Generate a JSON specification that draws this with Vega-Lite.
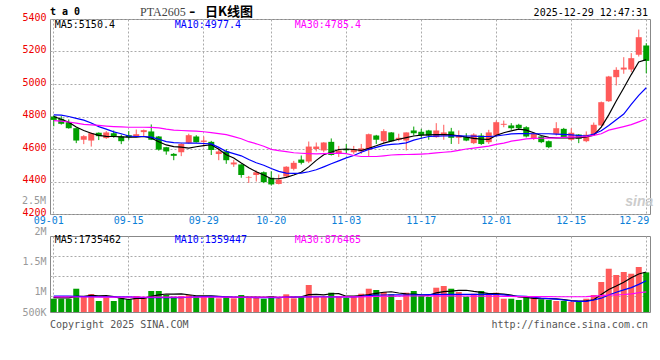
{
  "$schema": "https://vega.github.io/schema/vega-lite/v6.json",
  "background": "#ffffff",
  "padding": {"left": 21, "top": 5, "right": 10, "bottom": 5},
  "config": {
    "view": {"stroke": "#888888", "strokeWidth": 1},
    "axis": {"ticks": false, "domain": false, "labelFont": "DejaVu Sans Mono", "labelFontSize": 10, "gridColor": "#aaaaaa", "gridDash": [2, 2], "gridWidth": 1},
    "text": {"font": "DejaVu Sans Mono", "fontSize": 10}
  },
  "datasets": {
    "k": [
      {"d":"09-01","o":4800,"h":4806,"l":4740,"c":4779,"v":577000,"MA5":4800,"MA10":4810,"MA30":4775,"v5":620000,"v10":690000,"v30":655000},
      {"d":"09-02","o":4786,"h":4802,"l":4750,"c":4755,"v":577000,"MA5":4783,"MA10":4808,"MA30":4771,"v5":615000,"v10":690000,"v30":654000},
      {"d":"09-03","o":4765,"h":4782,"l":4725,"c":4728,"v":577000,"MA5":4765,"MA10":4800,"MA30":4766,"v5":610000,"v10":688000,"v30":653000},
      {"d":"09-04","o":4728,"h":4732,"l":4636,"c":4652,"v":1011000,"MA5":4735,"MA10":4788,"MA30":4759,"v5":680000,"v10":680000,"v30":652000},
      {"d":"09-05","o":4657,"h":4685,"l":4630,"c":4679,"v":651000,"MA5":4714,"MA10":4778,"MA30":4751,"v5":679000,"v10":670000,"v30":652000},
      {"d":"09-08","o":4652,"h":4702,"l":4615,"c":4697,"v":781000,"MA5":4697,"MA10":4760,"MA30":4748,"v5":719000,"v10":665000,"v30":651000},
      {"d":"09-09","o":4700,"h":4702,"l":4655,"c":4679,"v":477000,"MA5":4684,"MA10":4738,"MA30":4745,"v5":699000,"v10":662000,"v30":650000},
      {"d":"09-10","o":4667,"h":4710,"l":4662,"c":4702,"v":621000,"MA5":4678,"MA10":4722,"MA30":4741,"v5":708000,"v10":660000,"v30":650000},
      {"d":"09-11","o":4697,"h":4714,"l":4669,"c":4679,"v":477000,"MA5":4677,"MA10":4705,"MA30":4738,"v5":671000,"v10":660000,"v30":649000},
      {"d":"09-12","o":4677,"h":4689,"l":4630,"c":4648,"v":595000,"MA5":4675,"MA10":4694,"MA30":4736,"v5":590000,"v10":658000,"v30":649000},
      {"d":"09-15","o":4685,"h":4710,"l":4657,"c":4672,"v":551000,"MA5":4673,"MA10":4680,"MA30":4734,"v5":544000,"v10":655000,"v30":648000},
      {"d":"09-16","o":4679,"h":4720,"l":4677,"c":4691,"v":694000,"MA5":4673,"MA10":4677,"MA30":4734,"v5":588000,"v10":640000,"v30":648000},
      {"d":"09-17","o":4704,"h":4720,"l":4679,"c":4716,"v":651000,"MA5":4677,"MA10":4677,"MA30":4734,"v5":594000,"v10":630000,"v30":648000},
      {"d":"09-18","o":4708,"h":4751,"l":4655,"c":4657,"v":911000,"MA5":4668,"MA10":4673,"MA30":4733,"v5":680000,"v10":625000,"v30":647000},
      {"d":"09-19","o":4677,"h":4680,"l":4590,"c":4596,"v":911000,"MA5":4645,"MA10":4660,"MA30":4730,"v5":744000,"v10":622000,"v30":647000},
      {"d":"09-22","o":4611,"h":4613,"l":4565,"c":4585,"v":738000,"MA5":4625,"MA10":4645,"MA30":4722,"v5":781000,"v10":620000,"v30":646000},
      {"d":"09-23","o":4570,"h":4575,"l":4531,"c":4558,"v":664000,"MA5":4615,"MA10":4639,"MA30":4716,"v5":775000,"v10":622000,"v30":646000},
      {"d":"09-24","o":4580,"h":4635,"l":4556,"c":4631,"v":694000,"MA5":4611,"MA10":4637,"MA30":4714,"v5":784000,"v10":628000,"v30":646000},
      {"d":"09-25","o":4638,"h":4694,"l":4634,"c":4685,"v":738000,"MA5":4605,"MA10":4636,"MA30":4712,"v5":749000,"v10":640000,"v30":645000},
      {"d":"09-26","o":4677,"h":4685,"l":4640,"c":4642,"v":694000,"MA5":4614,"MA10":4636,"MA30":4710,"v5":706000,"v10":660000,"v30":645000},
      {"d":"09-29","o":4644,"h":4677,"l":4615,"c":4652,"v":694000,"MA5":4621,"MA10":4634,"MA30":4706,"v5":697000,"v10":672000,"v30":645000},
      {"d":"09-30","o":4644,"h":4650,"l":4563,"c":4594,"v":664000,"MA5":4626,"MA10":4631,"MA30":4701,"v5":697000,"v10":676000,"v30":645000},
      {"d":"10-09","o":4569,"h":4604,"l":4531,"c":4585,"v":595000,"MA5":4598,"MA10":4610,"MA30":4695,"v5":677000,"v10":670000,"v30":646000},
      {"d":"10-10","o":4585,"h":4600,"l":4509,"c":4531,"v":651000,"MA5":4565,"MA10":4585,"MA30":4688,"v5":660000,"v10":660000,"v30":646000},
      {"d":"10-13","o":4505,"h":4533,"l":4490,"c":4517,"v":595000,"MA5":4545,"MA10":4572,"MA30":4676,"v5":640000,"v10":650000,"v30":647000},
      {"d":"10-14","o":4505,"h":4507,"l":4423,"c":4440,"v":738000,"MA5":4514,"MA10":4558,"MA30":4663,"v5":647000,"v10":640000,"v30":647000},
      {"d":"10-15","o":4424,"h":4434,"l":4391,"c":4428,"v":651000,"MA5":4485,"MA10":4535,"MA30":4645,"v5":646000,"v10":630000,"v30":648000},
      {"d":"10-16","o":4440,"h":4468,"l":4400,"c":4457,"v":621000,"MA5":4460,"MA10":4515,"MA30":4632,"v5":651000,"v10":625000,"v30":648000},
      {"d":"10-17","o":4457,"h":4462,"l":4390,"c":4396,"v":577000,"MA5":4440,"MA10":4500,"MA30":4617,"v5":636000,"v10":622000,"v30":649000},
      {"d":"10-20","o":4423,"h":4463,"l":4375,"c":4382,"v":694000,"MA5":4417,"MA10":4480,"MA30":4598,"v5":656000,"v10":620000,"v30":649000},
      {"d":"10-21","o":4385,"h":4443,"l":4382,"c":4412,"v":595000,"MA5":4417,"MA10":4462,"MA30":4590,"v5":628000,"v10":625000,"v30":650000},
      {"d":"10-22","o":4431,"h":4494,"l":4423,"c":4491,"v":768000,"MA5":4425,"MA10":4452,"MA30":4584,"v5":651000,"v10":640000,"v30":650000},
      {"d":"10-23","o":4478,"h":4527,"l":4468,"c":4515,"v":595000,"MA5":4440,"MA10":4450,"MA30":4577,"v5":646000,"v10":650000,"v30":651000},
      {"d":"10-24","o":4535,"h":4560,"l":4505,"c":4515,"v":651000,"MA5":4457,"MA10":4451,"MA30":4574,"v5":661000,"v10":655000,"v30":651000},
      {"d":"10-27","o":4523,"h":4646,"l":4513,"c":4615,"v":1172000,"MA5":4490,"MA10":4460,"MA30":4572,"v5":756000,"v10":660000,"v30":652000},
      {"d":"10-28","o":4600,"h":4640,"l":4585,"c":4615,"v":651000,"MA5":4530,"MA10":4472,"MA30":4570,"v5":767000,"v10":662000,"v30":652000},
      {"d":"10-29","o":4591,"h":4642,"l":4580,"c":4640,"v":651000,"MA5":4565,"MA10":4490,"MA30":4571,"v5":744000,"v10":663000,"v30":652000},
      {"d":"10-30","o":4644,"h":4665,"l":4560,"c":4563,"v":838000,"MA5":4580,"MA10":4509,"MA30":4573,"v5":793000,"v10":660000,"v30":652000},
      {"d":"10-31","o":4575,"h":4619,"l":4551,"c":4591,"v":664000,"MA5":4597,"MA10":4527,"MA30":4575,"v5":795000,"v10":655000,"v30":653000},
      {"d":"11-03","o":4600,"h":4631,"l":4570,"c":4592,"v":621000,"MA5":4600,"MA10":4545,"MA30":4572,"v5":685000,"v10":651000,"v30":654000},
      {"d":"11-04","o":4580,"h":4619,"l":4570,"c":4600,"v":664000,"MA5":4597,"MA10":4560,"MA30":4560,"v5":688000,"v10":651000,"v30":656000},
      {"d":"11-05","o":4584,"h":4631,"l":4570,"c":4604,"v":794000,"MA5":4591,"MA10":4580,"MA30":4554,"v5":716000,"v10":680000,"v30":660000},
      {"d":"11-06","o":4594,"h":4695,"l":4552,"c":4691,"v":1011000,"MA5":4604,"MA10":4598,"MA30":4554,"v5":751000,"v10":710000,"v30":668000},
      {"d":"11-07","o":4683,"h":4687,"l":4631,"c":4657,"v":955000,"MA5":4620,"MA10":4610,"MA30":4554,"v5":809000,"v10":730000,"v30":676000},
      {"d":"11-10","o":4648,"h":4722,"l":4636,"c":4710,"v":868000,"MA5":4636,"MA10":4622,"MA30":4558,"v5":858000,"v10":738000,"v30":684000},
      {"d":"11-11","o":4702,"h":4704,"l":4646,"c":4648,"v":768000,"MA5":4648,"MA10":4628,"MA30":4563,"v5":879000,"v10":740000,"v30":690000},
      {"d":"11-12","o":4657,"h":4694,"l":4648,"c":4669,"v":521000,"MA5":4660,"MA10":4631,"MA30":4565,"v5":825000,"v10":740000,"v30":692000},
      {"d":"11-13","o":4652,"h":4702,"l":4591,"c":4702,"v":838000,"MA5":4670,"MA10":4638,"MA30":4566,"v5":790000,"v10":738000,"v30":694000},
      {"d":"11-14","o":4714,"h":4738,"l":4683,"c":4697,"v":911000,"MA5":4680,"MA10":4655,"MA30":4567,"v5":781000,"v10":740000,"v30":695000},
      {"d":"11-17","o":4706,"h":4724,"l":4663,"c":4685,"v":694000,"MA5":4685,"MA10":4666,"MA30":4569,"v5":746000,"v10":745000,"v30":695000},
      {"d":"11-18","o":4714,"h":4718,"l":4657,"c":4683,"v":651000,"MA5":4687,"MA10":4677,"MA30":4571,"v5":723000,"v10":755000,"v30":696000},
      {"d":"11-19","o":4673,"h":4759,"l":4669,"c":4714,"v":1055000,"MA5":4688,"MA10":4679,"MA30":4576,"v5":830000,"v10":765000,"v30":697000},
      {"d":"11-20","o":4683,"h":4749,"l":4657,"c":4702,"v":1128000,"MA5":4688,"MA10":4680,"MA30":4580,"v5":888000,"v10":767000,"v30":697000},
      {"d":"11-21","o":4708,"h":4730,"l":4631,"c":4669,"v":1011000,"MA5":4687,"MA10":4681,"MA30":4584,"v5":908000,"v10":767000,"v30":696000},
      {"d":"11-24","o":4669,"h":4714,"l":4631,"c":4683,"v":868000,"MA5":4681,"MA10":4681,"MA30":4592,"v5":943000,"v10":768000,"v30":695000},
      {"d":"11-25","o":4673,"h":4697,"l":4648,"c":4652,"v":664000,"MA5":4673,"MA10":4680,"MA30":4600,"v5":945000,"v10":767000,"v30":694000},
      {"d":"11-26","o":4636,"h":4697,"l":4630,"c":4689,"v":794000,"MA5":4665,"MA10":4679,"MA30":4605,"v5":893000,"v10":767000,"v30":692000},
      {"d":"11-27","o":4683,"h":4697,"l":4625,"c":4631,"v":911000,"MA5":4661,"MA10":4677,"MA30":4611,"v5":850000,"v10":766000,"v30":690000},
      {"d":"11-28","o":4642,"h":4718,"l":4631,"c":4702,"v":768000,"MA5":4659,"MA10":4677,"MA30":4618,"v5":801000,"v10":765000,"v30":688000},
      {"d":"12-01","o":4683,"h":4775,"l":4677,"c":4765,"v":838000,"MA5":4684,"MA10":4680,"MA30":4628,"v5":795000,"v10":760000,"v30":684000},
      {"d":"12-02","o":4749,"h":4775,"l":4734,"c":4755,"v":577000,"MA5":4700,"MA10":4686,"MA30":4636,"v5":778000,"v10":740000,"v30":680000},
      {"d":"12-03","o":4745,"h":4759,"l":4718,"c":4728,"v":577000,"MA5":4712,"MA10":4693,"MA30":4648,"v5":734000,"v10":700000,"v30":675000},
      {"d":"12-04","o":4749,"h":4755,"l":4718,"c":4728,"v":521000,"MA5":4722,"MA10":4695,"MA30":4655,"v5":656000,"v10":694000,"v30":670000},
      {"d":"12-05","o":4734,"h":4740,"l":4671,"c":4677,"v":651000,"MA5":4716,"MA10":4695,"MA30":4662,"v5":633000,"v10":680000,"v30":667000},
      {"d":"12-08","o":4663,"h":4702,"l":4655,"c":4694,"v":651000,"MA5":4700,"MA10":4694,"MA30":4665,"v5":595000,"v10":640000,"v30":665000},
      {"d":"12-09","o":4677,"h":4680,"l":4636,"c":4642,"v":551000,"MA5":4683,"MA10":4694,"MA30":4666,"v5":575000,"v10":600000,"v30":664000},
      {"d":"12-10","o":4648,"h":4652,"l":4605,"c":4611,"v":521000,"MA5":4672,"MA10":4694,"MA30":4667,"v5":579000,"v10":579000,"v30":664000},
      {"d":"12-11","o":4694,"h":4765,"l":4683,"c":4728,"v":477000,"MA5":4669,"MA10":4692,"MA30":4669,"v5":570000,"v10":560000,"v30":663000},
      {"d":"12-12","o":4724,"h":4730,"l":4669,"c":4673,"v":477000,"MA5":4669,"MA10":4690,"MA30":4671,"v5":535000,"v10":520000,"v30":663000},
      {"d":"12-15","o":4657,"h":4728,"l":4652,"c":4700,"v":434000,"MA5":4669,"MA10":4687,"MA30":4673,"v5":492000,"v10":480000,"v30":662000},
      {"d":"12-16","o":4689,"h":4692,"l":4636,"c":4663,"v":434000,"MA5":4669,"MA10":4683,"MA30":4675,"v5":469000,"v10":463000,"v30":662000},
      {"d":"12-17","o":4648,"h":4708,"l":4642,"c":4688,"v":577000,"MA5":4675,"MA10":4680,"MA30":4677,"v5":480000,"v10":463000,"v30":670000},
      {"d":"12-18","o":4689,"h":4763,"l":4683,"c":4749,"v":738000,"MA5":4685,"MA10":4692,"MA30":4684,"v5":532000,"v10":520000,"v30":690000},
      {"d":"12-19","o":4745,"h":4892,"l":4740,"c":4888,"v":1302000,"MA5":4735,"MA10":4712,"MA30":4694,"v5":760000,"v10":600000,"v30":715000},
      {"d":"12-22","o":4894,"h":5050,"l":4890,"c":5046,"v":1879000,"MA5":4810,"MA10":4745,"MA30":4716,"v5":980000,"v10":740000,"v30":738000},
      {"d":"12-23","o":5042,"h":5103,"l":4991,"c":5087,"v":1606000,"MA5":4895,"MA10":4780,"MA30":4727,"v5":1130000,"v10":860000,"v30":745000},
      {"d":"12-24","o":5089,"h":5165,"l":5063,"c":5101,"v":1736000,"MA5":4975,"MA10":4815,"MA30":4738,"v5":1290000,"v10":960000,"v30":760000},
      {"d":"12-25","o":5089,"h":5190,"l":5073,"c":5159,"v":1662000,"MA5":5058,"MA10":4875,"MA30":4750,"v5":1490000,"v10":1060000,"v30":790000},
      {"d":"12-26","o":5180,"h":5335,"l":5169,"c":5288,"v":1953000,"MA5":5136,"MA10":4930,"MA30":4767,"v5":1650000,"v10":1200000,"v30":835000},
      {"d":"12-29","o":5237,"h":5251,"l":5066,"c":5142,"v":1720000,"MA5":5150,"MA10":4977,"MA30":4785,"v5":1735000,"v10":1359000,"v30":876000}
    ],
    "priceLegend": [
      {"d":"09-01","k":"MA5","t":"MA5:5150.4"},
      {"d":"09-23","k":"MA10","t":"MA10:4977.4"},
      {"d":"10-23","k":"MA30","t":"MA30:4785.4"}
    ],
    "volLegend": [
      {"d":"09-01","k":"v5","t":"MA5:1735462"},
      {"d":"09-23","k":"v10","t":"MA10:1359447"},
      {"d":"10-23","k":"v30","t":"MA30:876465"}
    ]
  },
  "spacing": 22,
  "bounds": "flush",
  "resolve": {"scale": {"y": "independent", "color": "independent"}},
  "vconcat": [
    {
      "width": 600,
      "height": 195,
      "data": {"name": "k"},
      "encoding": {
        "x": {
          "field": "d", "type": "ordinal", "title": null,
          "scale": {"type": "band", "paddingInner": 0.2},
          "axis": {"values": ["09-01","09-15","09-29","10-20","11-03","11-17","12-01","12-15","12-29"], "grid": true, "labelAngle": 0, "labelColor": "#0a80d8", "labelPadding": 1, "bandPosition": 0.5,
            "labelAlign": {"condition": {"test": "datum.value == '12-29'", "value": "right"}, "value": "center"},
            "labelOffset": {"condition": [{"test": "datum.value == '12-29'", "value": 3}, {"test": "datum.value == '09-01'", "value": -5}], "value": 0}}
        }
      },
      "layer": [
        {
          "mark": {"type": "rule", "strokeWidth": 1},
          "encoding": {
            "y": {"field": "l", "type": "quantitative", "title": null,
              "scale": {"domain": [4200, 5400], "zero": false, "nice": false},
              "axis": {"values": [4200, 4400, 4600, 4800, 5000, 5200, 5400], "tickCount": 7, "format": "d", "grid": true, "labelColor": "#ee0000", "labelPadding": 4, "labelOffset": -2, "labelOverlap": false}},
            "y2": {"field": "h"},
            "color": {"condition": {"test": "datum.c >= datum.o", "value": "#ff5a5a"}, "value": "#00a000"}
          }
        },
        {
          "mark": {"type": "bar"},
          "encoding": {
            "y": {"field": "o", "type": "quantitative", "title": null},
            "y2": {"field": "c"},
            "color": {"condition": {"test": "datum.c >= datum.o", "value": "#ff5a5a"}, "value": "#00a000"}
          }
        },
        {
          "transform": [{"fold": ["MA5", "MA10", "MA30"], "as": ["k", "val"]}],
          "mark": {"type": "line", "strokeWidth": 1.2},
          "encoding": {
            "y": {"field": "val", "type": "quantitative", "title": null},
            "color": {"field": "k", "type": "nominal", "scale": {"domain": ["MA5", "MA10", "MA30"], "range": ["#000000", "#0000ff", "#ff00ff"]}, "legend": null}
          }
        },
        {
          "data": {"name": "priceLegend"},
          "mark": {"type": "text", "align": "left", "baseline": "middle", "dx": 1, "dy": 6},
          "encoding": {
            "y": {"datum": 5400},
            "text": {"field": "t"},
            "color": {"field": "k", "type": "nominal", "legend": null}
          }
        },
        {
          "data": {"values": [{"d": "09-01", "t": "t a 0"}]},
          "mark": {"type": "text", "align": "left", "baseline": "middle", "dx": -3.75, "dy": -7, "fontWeight": "bold", "fontSize": 10, "color": "#000000"},
          "encoding": {"y": {"datum": 5400}, "text": {"field": "t"}}
        },
        {
          "data": {"values": [{"d": "09-17", "t": "PTA2605"}]},
          "mark": {"type": "text", "align": "left", "baseline": "middle", "dx": -3.75, "dy": -7.5, "font": "Liberation Serif", "fontSize": 12, "color": "#444444"},
          "encoding": {"y": {"datum": 5400}, "text": {"field": "t"}}
        },
        {
          "data": {"values": [{"d": "09-25", "t": "–"}]},
          "mark": {"type": "text", "align": "left", "baseline": "middle", "dx": 0.5, "dy": -7.5, "font": "DejaVu Sans", "fontSize": 12, "fontWeight": "bold", "color": "#000000"},
          "encoding": {"y": {"datum": 5400}, "text": {"field": "t"}}
        },
        {
          "data": {"values": [{"d": "09-29", "t": "日K线图"}]},
          "mark": {"type": "text", "align": "left", "baseline": "middle", "dx": 1.25, "dy": -7.5, "font": "Noto Sans CJK SC", "fontSize": 13, "fontWeight": "bold", "color": "#000000"},
          "encoding": {"y": {"datum": 5400}, "text": {"field": "t"}}
        },
        {
          "data": {"values": [{"d": "12-29", "t": "2025-12-29 12:47:31"}]},
          "mark": {"type": "text", "align": "right", "baseline": "middle", "dx": 1.75, "dy": -6.5, "color": "#000000"},
          "encoding": {"y": {"datum": 5400}, "text": {"field": "t"}}
        },
        {
          "data": {"values": [{"d": "12-25", "t": "sina"}]},
          "mark": {"type": "text", "align": "left", "baseline": "middle", "dx": -6, "font": "Liberation Sans", "fontSize": 14, "fontStyle": "italic", "fontWeight": "bold", "color": "#cccccc"},
          "encoding": {"y": {"datum": 4275}, "text": {"field": "t"}}
        }
      ]
    },
    {
      "width": 600,
      "height": 76,
      "data": {"name": "k"},
      "encoding": {
        "x": {
          "field": "d", "type": "ordinal", "title": null,
          "scale": {"type": "band", "paddingInner": 0.2},
          "axis": {"values": ["09-01","09-15","09-29","10-20","11-03","11-17","12-01","12-15","12-29"], "grid": true, "labels": false, "bandPosition": 0.5}
        }
      },
      "layer": [
        {
          "mark": {"type": "bar"},
          "encoding": {
            "y": {"field": "v", "type": "quantitative", "title": null,
              "scale": {"domain": [0, 3300000], "nice": false},
              "axis": {
                "values": [0, 694700, 890000, 1563200, 2214000, 2431600, 3300000],
                "tickCount": 10,
                "labelExpr": "datum.value == 0 ? '500K' : datum.value == 890000 ? '1M' : datum.value == 2214000 ? '1.5M' : datum.value == 3300000 ? '2M' : ''",
                "labelColor": "#999999", "labelPadding": 4, "labelOverlap": false,
                "labelBaseline": {"condition": {"test": "datum.value == 3300000", "value": "bottom"}, "value": "middle"},
                "grid": true,
                "gridOpacity": {"condition": {"test": "datum.value == 694700 || datum.value == 1563200 || datum.value == 2431600", "value": 1}, "value": 0}
              }},
            "color": {"condition": {"test": "datum.c >= datum.o", "value": "#ff5a5a"}, "value": "#00a000"}
          }
        },
        {
          "transform": [{"fold": ["v5", "v10", "v30"], "as": ["k", "val"]}],
          "mark": {"type": "line", "strokeWidth": 1.2},
          "encoding": {
            "y": {"field": "val", "type": "quantitative", "title": null},
            "color": {"field": "k", "type": "nominal", "scale": {"domain": ["v5", "v10", "v30"], "range": ["#000000", "#0000ff", "#ff00ff"]}, "legend": null}
          }
        },
        {
          "data": {"name": "volLegend"},
          "mark": {"type": "text", "align": "left", "baseline": "middle", "dx": 1, "dy": 4},
          "encoding": {
            "y": {"datum": 3300000},
            "text": {"field": "t"},
            "color": {"field": "k", "type": "nominal", "legend": null}
          }
        },
        {
          "data": {"values": [{"d": "09-01", "t": "2.5M"}]},
          "mark": {"type": "text", "align": "right", "baseline": "middle", "dx": -7.75, "color": "#999999"},
          "encoding": {"y": {"datum": 4830000}, "text": {"field": "t"}}
        },
        {
          "data": {"values": [{"d": "09-01", "t": "Copyright 2025 SINA.COM"}]},
          "mark": {"type": "text", "align": "left", "baseline": "middle", "dx": -3.75, "dy": 13, "color": "#555555"},
          "encoding": {"y": {"datum": 0}, "text": {"field": "t"}}
        },
        {
          "data": {"values": [{"d": "12-29", "t": "http://finance.sina.com.cn"}]},
          "mark": {"type": "text", "align": "right", "baseline": "middle", "dx": 1.75, "dy": 13, "color": "#555555"},
          "encoding": {"y": {"datum": 0}, "text": {"field": "t"}}
        }
      ]
    }
  ]
}
